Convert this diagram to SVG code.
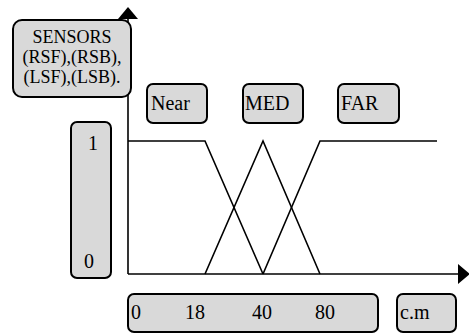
<svg xmlns="http://www.w3.org/2000/svg" width="469" height="334" viewBox="0 0 469 334">
<style>
.box{fill:#d9d9d9;stroke:#000;stroke-width:2}
.t{font-size:20px;fill:#000}
.s{font-size:18px}
.ln{fill:none;stroke:#000;stroke-width:1.6}
.ax{fill:none;stroke:#000;stroke-width:1.6}
</style>
<defs>
<marker id="ah" viewBox="0 0 12 20" refX="1" refY="10" markerWidth="12" markerHeight="20" markerUnits="userSpaceOnUse" orient="auto">
<path d="M0,0 L12,10 L0,20 Z" fill="#000"/>
</marker>
</defs>
<rect width="469" height="334" fill="#fff"/>
<g id="connectors">
<line class="ax" x1="128" y1="274" x2="128" y2="18" marker-end="url(#ah)"/>
<line class="ax" x1="128" y1="274" x2="459" y2="274" marker-end="url(#ah)"/>
<polyline id="near-mf" class="ln" points="128,141 205,141 263,274"/>
<polyline id="med-mf" class="ln" points="205,274 263,141 320,274"/>
<polyline id="far-mf" class="ln" points="263,274 320,141 437,141"/>
</g>
<g font-family="Liberation Serif, Times New Roman, serif">
<g id="sensors">
<rect class="box" x="13" y="20" width="118" height="77" rx="9"/>
<text class="t s" x="72" y="43" text-anchor="middle">SENSORS</text>
<text class="t s" x="72" y="63" text-anchor="middle">(RSF),(RSB),</text>
<text class="t s" x="72" y="83" text-anchor="middle">(LSF),(LSB).</text>
</g>
<g id="near">
<rect class="box" x="147" y="84" width="60" height="39" rx="6"/>
<text class="t" x="151" y="110">Near</text>
</g>
<g id="med">
<rect class="box" x="243" y="84" width="60" height="39" rx="6"/>
<text class="t" x="245" y="110">MED</text>
</g>
<g id="far">
<rect class="box" x="338" y="84" width="61" height="39" rx="6"/>
<text class="t" x="341" y="110">FAR</text>
</g>
<g id="yscale">
<rect class="box" x="71" y="122" width="40" height="156" rx="6"/>
<text class="t" x="93" y="150" text-anchor="middle">1</text>
<text class="t" x="89" y="268" text-anchor="middle">0</text>
</g>
<g id="xscale">
<rect class="box" x="128" y="294" width="250" height="38" rx="6"/>
<text class="t" x="131" y="319">0</text>
<text class="t" x="185" y="319">18</text>
<text class="t" x="252" y="319">40</text>
<text class="t" x="315" y="319">80</text>
</g>
<g id="unit">
<rect class="box" x="397" y="294" width="59" height="38" rx="6"/>
<text class="t" x="400" y="319">c.m</text>
</g>
</g>
</svg>
